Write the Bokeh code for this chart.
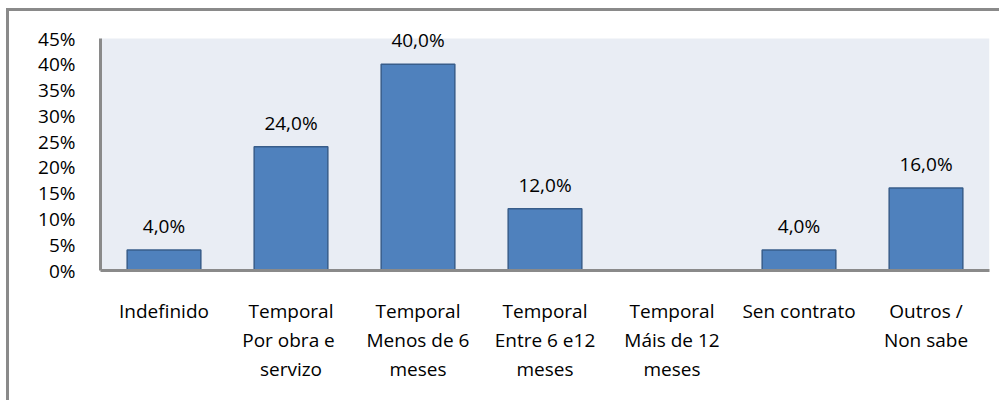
from bokeh.plotting import figure
from bokeh.models import Range1d, FixedTicker, ColumnDataSource, LabelSet, LinearAxis, BoxAnnotation
from bokeh.core.properties import value
from bokeh.embed import file_html
from bokeh.resources import INLINE

categories = [
    "Indefinido",
    "Temporal\nPor obra  e\nservizo",
    "Temporal\nMenos de 6\nmeses",
    "Temporal\nEntre 6 e12\nmeses",
    "Temporal\nMáis de 12\nmeses",
    "Sen contrato",
    "Outros /\nNon sabe",
]
values = [4.0, 24.0, 40.0, 12.0, 0.0, 4.0, 16.0]
value_labels = ["4,0%", "24,0%", "40,0%", "12,0%", "", "4,0%", "16,0%"]
y_ticks = [0, 5, 10, 15, 20, 25, 30, 35, 40, 45]
y_tick_labels = ["0%", "5%", "10%", "15%", "20%", "25%", "30%", "35%", "40%", "45%"]

FONT = "Open Sans"
FSIZE = "19px"
AXIS_GRAY = "#8a8a8a"
Y_MAX = 45

pos = list(range(len(categories)))
src = ColumnDataSource(dict(x=pos, val=values, lab=value_labels))

p = figure(
    x_range=Range1d(-0.5, len(categories) - 0.5),
    y_range=Range1d(0, Y_MAX * 253 / 232),
    width=993, height=392,
    output_backend="svg", toolbar_location=None,
    min_border_left=91, min_border_right=13, min_border_top=6, min_border_bottom=133,
    background_fill_color="white", border_fill_color="white",
    outline_line_color=None,
)
p.styles = {"margin-left": "6px", "margin-top": "8px",
            "border-left": "3px solid #8a8a8a", "border-top": "3px solid #8a8a8a"}

# plot-area fill up to the top of the value axis
p.add_layout(BoxAnnotation(bottom=0, top=Y_MAX, fill_color="#E9EDF4", fill_alpha=1.0,
                           line_color=None, level="underlay"))

p.vbar(x="x", top="val", width=0.58, source=src,
       fill_color="#4F81BD", line_color="#385D8A", line_width=1.5)

labels = LabelSet(x="x", y="val", text="lab", source=src,
                  text_align="center", text_baseline="middle", y_offset=24,
                  text_font=value(FONT), text_font_size=FSIZE, text_color="black")
p.add_layout(labels)

p.xgrid.visible = False
p.ygrid.visible = False

p.yaxis.ticker = FixedTicker(ticks=y_ticks)
p.yaxis.bounds = (0, Y_MAX)
p.yaxis.major_label_overrides = {t: l for t, l in zip(y_ticks, y_tick_labels)}
p.yaxis.major_tick_line_color = None
p.yaxis.minor_tick_line_color = None
p.yaxis.axis_line_color = AXIS_GRAY
p.yaxis.axis_line_width = 3
p.yaxis.major_label_standoff = 19
p.yaxis.major_label_text_font = FONT
p.yaxis.major_label_text_font_size = FSIZE
p.yaxis.major_label_text_color = "black"


def line_of(c, i):
    parts = c.split("\n")
    return parts[i] if i < len(parts) else " "


p.xaxis.axis_line_color = AXIS_GRAY
p.xaxis.axis_line_width = 3
p.xaxis.major_label_standoff = 21

for i in (1, 2):
    ax = LinearAxis(axis_line_color=None, major_label_standoff=-6)
    p.add_layout(ax, "below")

for i, ax in enumerate(p.xaxis):
    ax.ticker = FixedTicker(ticks=pos)
    ax.major_label_overrides = {k: line_of(c, i) for k, c in zip(pos, categories)}
    ax.major_tick_line_color = None
    ax.minor_tick_line_color = None
    ax.major_label_text_font = FONT
    ax.major_label_text_font_size = FSIZE
    ax.major_label_text_color = "black"

open("out.html", "w").write(file_html(p, INLINE))
